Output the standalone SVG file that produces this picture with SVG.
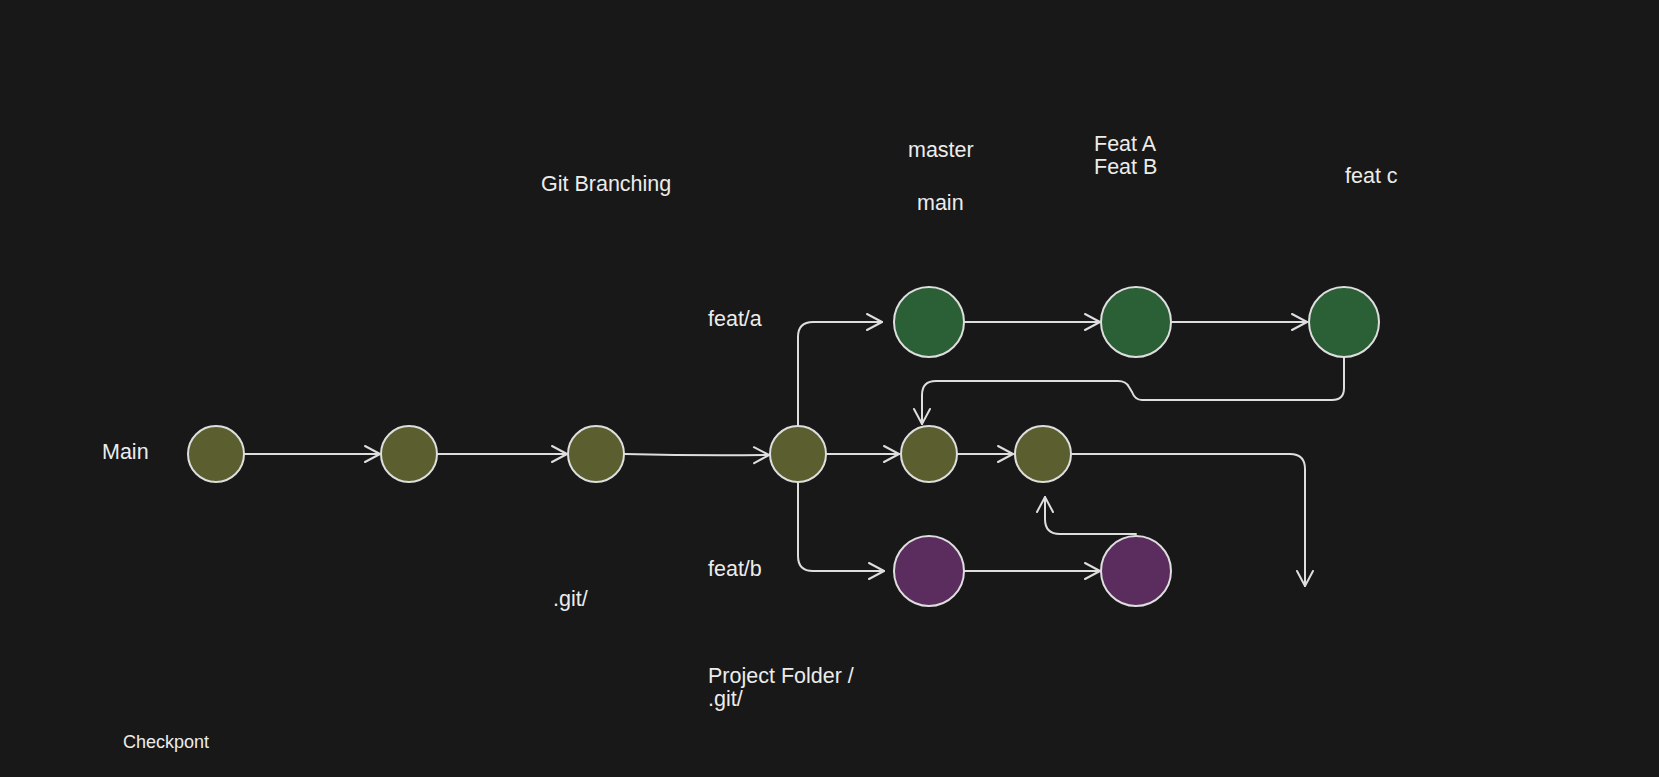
<svg xmlns="http://www.w3.org/2000/svg" width="1659" height="777" viewBox="0 0 1659 777">
<style>
.bg{fill:#181818}
.t{font-family:"Liberation Sans",Arial,sans-serif;font-size:21.5px;fill:#ececec}
.ts{font-family:"Liberation Sans",Arial,sans-serif;font-size:18px;fill:#ececec}
.olive{fill:#5b5e2e;stroke:#dedede;stroke-width:2}
.green{fill:#2b5f35;stroke:#dedede;stroke-width:2}
.purple{fill:#5b2c5e;stroke:#dedede;stroke-width:2}
.c{fill:none;stroke:#dedede;stroke-width:2;stroke-linecap:round;stroke-linejoin:round;marker-end:url(#arr)}
</style>
<defs>
<marker id="arr" markerUnits="userSpaceOnUse" markerWidth="20" markerHeight="20" viewBox="-17 -10 20 20" refX="0" refY="0" orient="auto">
<path d="M-15,-8 L0,0 L-15,8" fill="none" stroke="#dedede" stroke-width="2" stroke-linecap="round" stroke-linejoin="round"/>
</marker>
</defs>
<rect class="bg" x="0" y="0" width="1659" height="777"/>

<g id="labels">
<text class="t" x="102" y="459">Main</text>
<text class="t" x="541" y="191">Git Branching</text>
<text class="t" x="908" y="157">master</text>
<text class="t" x="917" y="210">main</text>
<text class="t" x="1094" y="151">Feat A</text>
<text class="t" x="1094" y="174">Feat B</text>
<text class="t" x="1345" y="183">feat c</text>
<text class="t" x="708" y="326">feat/a</text>
<text class="t" x="708" y="576">feat/b</text>
<text class="t" x="553" y="606">.git/</text>
<text class="t" x="708" y="683">Project Folder /</text>
<text class="t" x="708" y="706">.git/</text>
<text class="ts" x="123" y="748">Checkpont</text>
</g>

<g id="connectors">
<path class="c" d="M245,454 L380,454"/>
<path class="c" d="M438,454 L567,454"/>
<path class="c" d="M625,454 Q700,456 769,455"/>
<path class="c" d="M798,425 L798,337 Q798,322 813,322 L882,322"/>
<path class="c" d="M798,483 L798,556 Q798,571 813,571 L884,571"/>
<path class="c" d="M827,454 L899,454"/>
<path class="c" d="M958,454 L1013,454"/>
<path class="c" d="M965,322 L1100,322"/>
<path class="c" d="M1172,322 L1307,322"/>
<path class="c" d="M965,571 L1100,571"/>
<path class="c" d="M1344,358 L1344,388 Q1344,400 1332,400 L1142,400 Q1135,400 1132,392 L1129,387 Q1126,381 1118,381 L936,381 Q922,381 922,395 L922,424"/>
<path class="c" d="M1072,454 L1290,454 Q1305,454 1305,469 L1305,586"/>
<path class="c" d="M1136,534 L1060,534 Q1045,534 1045,519 L1045,497"/>
</g>

<g id="n1"><circle class="olive" cx="216" cy="454" r="28"/></g>
<g id="n2"><circle class="olive" cx="409" cy="454" r="28"/></g>
<g id="n3"><circle class="olive" cx="596" cy="454" r="28"/></g>
<g id="n4"><circle class="olive" cx="798" cy="454" r="28"/></g>
<g id="n5"><circle class="olive" cx="929" cy="454" r="28"/></g>
<g id="n6"><circle class="olive" cx="1043" cy="454" r="28"/></g>
<g id="g1"><circle class="green" cx="929" cy="322" r="35"/></g>
<g id="g2"><circle class="green" cx="1136" cy="322" r="35"/></g>
<g id="g3"><circle class="green" cx="1344" cy="322" r="35"/></g>
<g id="p1"><circle class="purple" cx="929" cy="571" r="35"/></g>
<g id="p2"><circle class="purple" cx="1136" cy="571" r="35"/></g>
</svg>
